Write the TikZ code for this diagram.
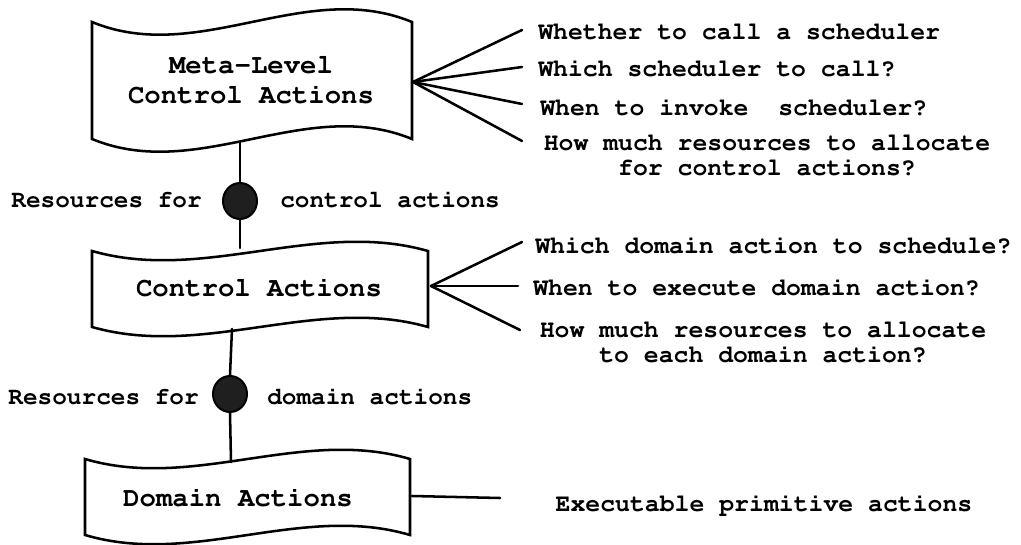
\documentclass[tikz,border=0pt]{standalone}
\usepackage[T1]{fontenc}
\renewcommand{\ttdefault}{pcr}
\usetikzlibrary{shapes.geometric}
\begin{document}
\begin{tikzpicture}[x=0.75pt,y=-0.75pt,
  wire/.style={line width=1.9pt,line cap=round},
  flag/.style={line width=1.9pt,fill=white,line join=miter},
  boxtext/.style={font=\ttfamily\bfseries\fontsize{20.5}{22.5}\selectfont,align=center,inner sep=0pt},
  note/.style={font=\ttfamily\bfseries\fontsize{18.6}{19}\selectfont,align=center,inner sep=0pt,anchor=west},
  cnote/.style={font=\ttfamily\bfseries\fontsize{18.6}{18.8}\selectfont,align=center,inner sep=0pt},
  res/.style={font=\ttfamily\bfseries\fontsize{18.3}{22}\selectfont,inner sep=0pt},
  dot/.style={ellipse,draw,line width=1.5pt,fill=black!88,minimum width=34*0.75pt,minimum height=36*0.75pt,inner sep=0pt}]
\useasboundingbox (0,0) rectangle (1021,545);
% wavy flag outline: left, right, top, bottom, wave depth
\newcommand\flagshape[5]{%
  \draw[flag] (#1,#3) .. controls ({#1+(#2-#1)/3},{#3+#5}) and ({#1+2*(#2-#1)/3},{#3-#5}) .. (#2,#3)
    -- (#2,#4) .. controls ({#1+2*(#2-#1)/3},{#4-#5}) and ({#1+(#2-#1)/3},{#4+#5}) .. (#1,#4) -- cycle;}

% the three levels
\flagshape{92}{412}{22}{139}{44}
\flagshape{92}{428}{251}{327}{32}
\flagshape{85}{410}{459}{535}{32}
\node[boxtext] (meta) at (251,80) {Meta-Level\\Control Actions};
\node[boxtext] (ctrl) at (259,288) {Control Actions};
\node[boxtext] (dom) at (238,498) {Domain Actions};

% anchor points on the flags
\coordinate (metaS) at (240,142);
\coordinate (metaE) at (413,82);
\coordinate (ctrlN) at (240,248);
\coordinate (ctrlS) at (232,329);
\coordinate (ctrlE) at (431,286);
\coordinate (domN) at (231,462);
\coordinate (domE) at (412,496);

% resource dots
\node[dot] (r1) at (240,201) {};
\node[dot] (r2) at (230,394) {};
\draw[wire] (metaS) -- (r1.north);
\draw[wire] (r1.south) -- (ctrlN);
\draw[wire] (ctrlS) -- (r2.north);
\draw[wire] (r2.south) -- (domN);
\node[res,anchor=east] (r1l) at (202,200) {Resources for};
\node[res,anchor=west] (r1r) at (280,200) {control actions};
\node[res,anchor=east] (r2l) at (199,397) {Resources for};
\node[res,anchor=west] (r2r) at (267,397) {domain actions};

% meta-level questions
\coordinate (m1) at (522,30);
\coordinate (m2) at (522,67);
\coordinate (m3) at (522,104);
\coordinate (m4) at (522,141);
\foreach \e in {m1,m2,m3,m4} \draw[wire] (metaE) -- (\e);
\node[note] (q1) at (538,32) {Whether to call a scheduler};
\node[note] (q2) at (538,68) {Which scheduler to call?};
\node[note] (q3) at (540,107) {When to invoke\ \ scheduler?};
\node[cnote] (q4) at (767,155) {How much resources to allocate\\for control actions?};

% control-level questions
\coordinate (c1) at (522,242);
\coordinate (c2) at (518,286);
\coordinate (c3) at (520,330);
\foreach \e in {c1,c2,c3} \draw[wire] (ctrlE) -- (\e);
\node[note] (p1) at (535,245) {Which domain action to schedule?};
\node[note] (p2) at (533,287) {When to execute domain action?};
\node[cnote] (p3) at (763,342) {How much resources to allocate\\to each domain action?};

% domain level
\coordinate (d1) at (500,498);
\draw[wire] (domE) -- (d1);
\node[cnote] (e1) at (764,505) {Executable primitive actions};
\end{tikzpicture}
\end{document}
